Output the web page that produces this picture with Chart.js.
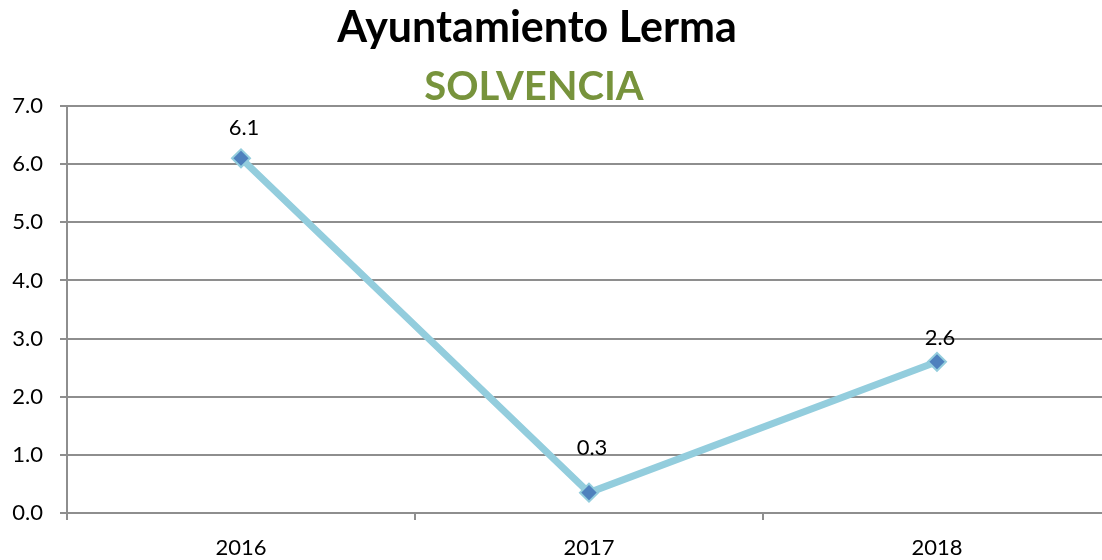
<!DOCTYPE html>
<html>
<head>
<meta charset="utf-8">
<script src="https://cdn.jsdelivr.net/npm/chart.js@4"></script>
<style>
  html, body { margin: 0; padding: 0; background: #fff; overflow: hidden; }
  #wrap { width: 1122px; height: 560px; }
</style>
</head>
<body>
<div id="wrap"><canvas id="chart" width="1122" height="560"></canvas></div>
<script>
// Chart data
const years = ['2016', '2017', '2018'];
const solvencia = [6.1, 0.35, 2.6];
const chartTitle = 'Ayuntamiento Lerma';
const chartSubtitle = 'SOLVENCIA';

const gridColor = '#8e8e8e';
const fontFamily = 'Lato, "Liberation Sans", sans-serif';

// value labels sit above each point (gap in px per point)
const labelGap = [30, 45, 24];

// Titles drawn on the canvas
const titlePlugin = {
    id: 'titles',
    afterDraw(chart) {
        const ctx = chart.ctx;
        ctx.save();
        ctx.textAlign = 'center';
        ctx.textBaseline = 'middle';
        ctx.fillStyle = '#000';
        ctx.font = 'bold 43px ' + fontFamily;
        ctx.fillText(chartTitle, 537, 28);
        ctx.fillStyle = '#77933C';
        ctx.font = 'bold 40px ' + fontFamily;
        ctx.fillText(chartSubtitle, 534, 87);
        ctx.restore();
    }
};

// Value labels above the markers
const valueLabels = {
    id: 'valueLabels',
    afterDatasetsDraw(chart) {
        const ctx = chart.ctx;
        const meta = chart.getDatasetMeta(0);
        ctx.save();
        ctx.font = '22px ' + fontFamily;
        ctx.fillStyle = '#000';
        ctx.textAlign = 'center';
        ctx.textBaseline = 'middle';
        meta.data.forEach((pt, i) => {
            ctx.fillText(solvencia[i].toFixed(1), pt.x + 3, pt.y - labelGap[i]);
        });
        ctx.restore();
    }
};

const ctx = document.getElementById('chart').getContext('2d');
const chart = new Chart(ctx, {
    type: 'line',
    data: {
        labels: years,
        datasets: [{
            data: solvencia,
            borderColor: '#93CDDD',
            borderWidth: 7,
            tension: 0,
            pointStyle: 'rectRot',
            pointRadius: 9,
            pointHoverRadius: 9,
            pointBackgroundColor: '#4F81BD',
            pointBorderColor: '#93CDDD',
            pointBorderWidth: 2,
            clip: false
        }]
    },
    options: {
        responsive: false,
        animation: false,
        layout: { padding: { top: 106, left: 0, right: 0, bottom: 0 } },
        plugins: {
            legend: { display: false },
            tooltip: { enabled: false }
        },
        scales: {
            x: {
                offset: true,
                afterFit: s => { s.height = 47; },
                grid: {
                    offset: true,
                    drawOnChartArea: false,
                    drawTicks: true,
                    tickLength: 7,
                    color: gridColor,
                    lineWidth: 2
                },
                border: { color: gridColor, width: 2 },
                ticks: {
                    color: '#000',
                    padding: 15,
                    font: { family: fontFamily, size: 22 }
                }
            },
            y: {
                min: 0,
                max: 7,
                afterFit: s => { s.width = 67; },
                grid: {
                    color: gridColor,
                    lineWidth: 2,
                    tickLength: 7
                },
                border: { color: gridColor, width: 2 },
                ticks: {
                    stepSize: 1,
                    color: '#000',
                    padding: 17,
                    font: { family: fontFamily, size: 22 },
                    callback: v => v.toFixed(1)
                }
            }
        }
    },
    plugins: [titlePlugin, valueLabels]
});
</script>
</body>
</html>
